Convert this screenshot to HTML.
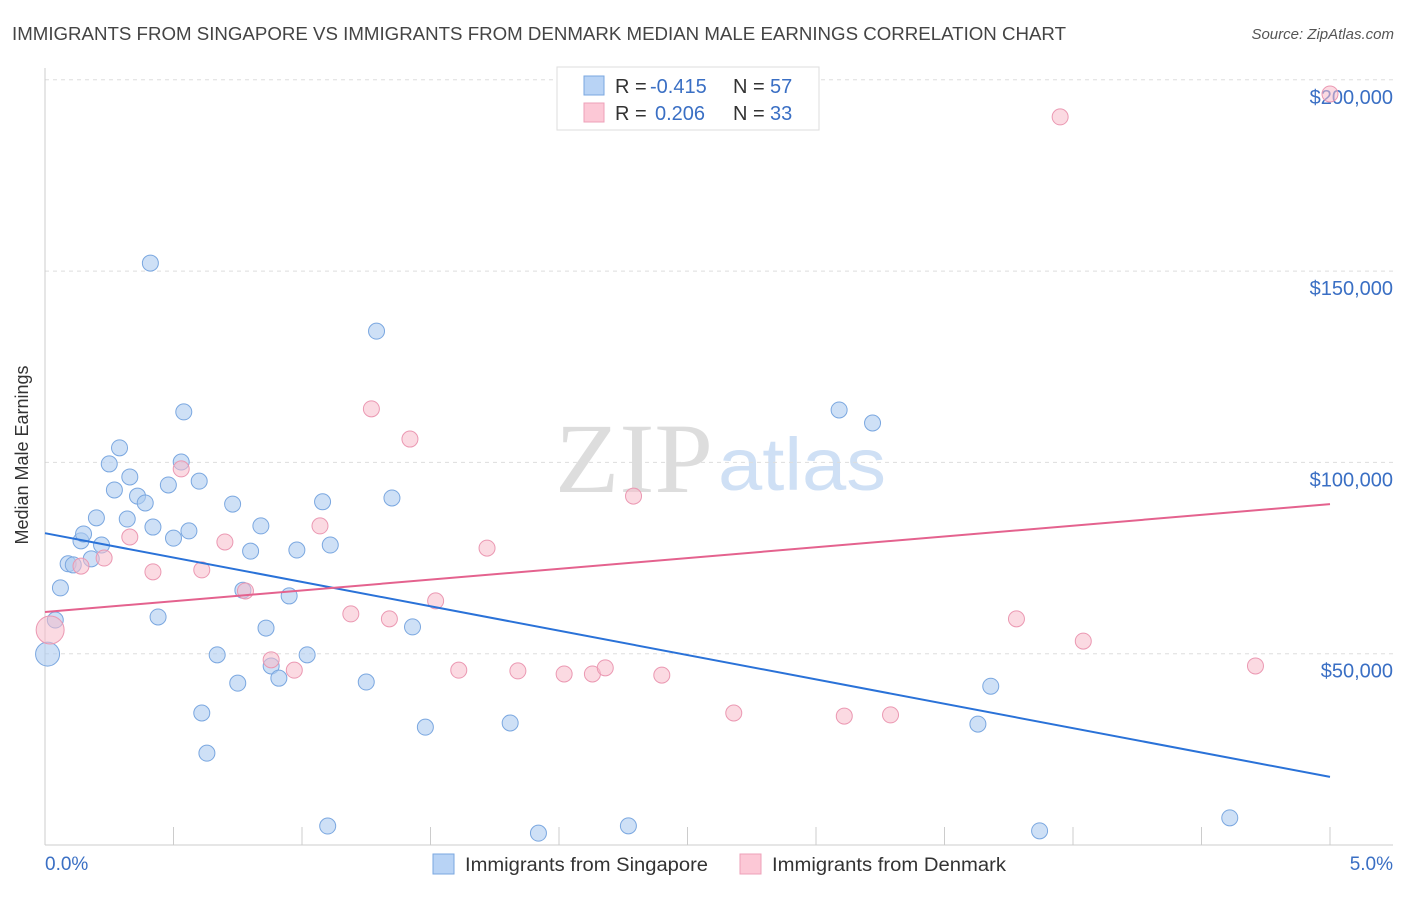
<!DOCTYPE html>
<html><head><meta charset="utf-8"><style>
body{margin:0;background:#fff;font-family:"Liberation Sans",sans-serif;}
svg text{font-family:"Liberation Sans",sans-serif;}
</style></head><body>
<svg id="chart" width="1406" height="892" viewBox="0 0 1406 892" xmlns="http://www.w3.org/2000/svg">
<text x="12" y="40" font-size="18" fill="#444" textLength="1054" lengthAdjust="spacingAndGlyphs">IMMIGRANTS FROM SINGAPORE VS IMMIGRANTS FROM DENMARK MEDIAN MALE EARNINGS CORRELATION CHART</text>
<text x="1394" y="39" font-size="15" fill="#555" font-style="italic" text-anchor="end">Source: ZipAtlas.com</text>
<text x="555" y="492" font-size="100" fill="#ddd" textLength="158" lengthAdjust="spacingAndGlyphs" style="font-family:'Liberation Serif',serif">ZIP</text>
<text x="718" y="490" font-size="74" fill="#cfe0f5" textLength="168" lengthAdjust="spacingAndGlyphs">atlas</text>
<g id="grid"></g>
<line x1="45" y1="68" x2="45" y2="845" stroke="#ccc"/>
<line x1="45" y1="845" x2="1393" y2="845" stroke="#ccc"/>
<g id="ticks"></g>
<text x="28" y="455" font-size="18" fill="#333" text-anchor="middle" transform="rotate(-90 28 455)">Median Male Earnings</text>
<text x="45" y="870" font-size="19" fill="#3a6fc4">0.0%</text>
<text x="1393" y="870" font-size="19" fill="#3a6fc4" text-anchor="end">5.0%</text>
<g id="marks"></g>
<g id="lines"></g>
<g>
<rect x="557" y="67" width="262" height="63" fill="#fff" stroke="#ddd"/>
<rect x="584" y="76" width="20" height="19" fill="#b8d3f5" stroke="#7aa7e0"/>
<rect x="584" y="103" width="20" height="19" fill="#fcc8d6" stroke="#eea0b8"/>
<text x="615" y="93" font-size="20" fill="#333">R = </text><text x="650" y="93" font-size="20" fill="#3a6fc4">-0.415</text>
<text x="733" y="93" font-size="20" fill="#333">N = </text><text x="770" y="93" font-size="20" fill="#3a6fc4">57</text>
<text x="615" y="120" font-size="20" fill="#333">R = </text><text x="655" y="120" font-size="20" fill="#3a6fc4">0.206</text>
<text x="733" y="120" font-size="20" fill="#333">N = </text><text x="770" y="120" font-size="20" fill="#3a6fc4">33</text>
</g>
<g>
<rect x="433" y="854" width="21" height="20" fill="#b8d3f5" stroke="#7aa7e0"/>
<text x="465" y="871" font-size="19" fill="#333" textLength="243" lengthAdjust="spacingAndGlyphs">Immigrants from Singapore</text>
<rect x="740" y="854" width="21" height="20" fill="#fcc8d6" stroke="#eea0b8"/>
<text x="772" y="871" font-size="19" fill="#333" textLength="234" lengthAdjust="spacingAndGlyphs">Immigrants from Denmark</text>
</g>
</svg>
<script>
const yTicks=[50000,100000,150000,200000];
const yTickLabels=["$50,000","$100,000","$150,000","$200,000"];
const xTicks=[0,0.5,1,1.5,2,2.5,3,3.5,4,4.5,5];
const sgX=[0.41,1.29,0.54,3.09,3.22,0.29,0.53,0.25,0.33,0.48,0.60,0.27,0.36,0.39,0.73,1.08,1.35,0.20,0.32,0.42,0.56,0.84,0.50,0.14,0.15,0.22,1.11,0.80,0.98,0.18,0.09,0.11,0.06,0.77,0.95,0.44,0.04,1.43,0.86,0.01,0.67,1.02,0.88,0.91,0.75,1.25,3.68,0.61,1.48,1.81,3.63,0.63,1.10,1.92,2.27,3.87,4.61];
const sgY=[152.1,134.3,113.2,113.7,110.3,103.8,100.1,99.6,96.2,94.1,95.1,92.8,91.2,89.4,89.1,89.7,90.7,85.5,85.2,83.1,82.1,83.4,80.2,79.5,81.3,78.4,78.4,76.8,77.1,74.8,73.5,73.2,67.2,66.6,65.1,59.6,58.8,57.0,56.7,49.9,49.7,49.7,46.8,43.6,42.3,42.6,41.5,34.5,30.8,31.9,31.6,24.0,4.96,3.1,5.0,3.7,7.1];
const dkX=[5.00,3.95,1.27,1.42,0.53,2.29,1.07,1.72,0.70,0.33,0.23,0.14,0.42,0.61,0.78,1.52,1.19,1.34,3.78,4.04,0.02,0.88,0.97,1.61,1.84,2.02,2.13,2.18,2.40,4.71,2.68,3.11,3.29];
const dkY=[196.3,190.3,114.0,106.1,98.3,91.2,83.4,77.6,79.2,80.5,75.0,72.9,71.4,71.9,66.4,63.8,60.4,59.1,59.1,53.3,56.2,48.4,45.7,45.7,45.5,44.7,44.7,46.3,44.4,46.8,34.5,33.7,34.0];
const sgLine=[81.5,17.8];
const dkLine=[60.9,89.1];
const NS="http://www.w3.org/2000/svg";
const xs=v=>45+v*257;
const ys=k=>845-k*1000/50000*191.3;
function mk(t,a,p){const e=document.createElementNS(NS,t);for(const k in a)e.setAttribute(k,a[k]);document.getElementById(p).appendChild(e);return e;}
yTicks.forEach((v,i)=>{
 const g=mk('line',{x1:45,x2:1393,y1:ys(v/1000),y2:ys(v/1000),stroke:'#ddd','stroke-dasharray':'4,4'},'grid');
 
 
 const t=mk('text',{x:1393,y:ys(v/1000)+24,'font-size':20,fill:'#3a6fc4','text-anchor':'end'},'grid');
 t.textContent=yTickLabels[i];
 
 
});
xTicks.forEach(v=>{
 const l=mk('line',{x1:xs(v),x2:xs(v),y1:827,y2:845,stroke:'#ccc'},'ticks');
 
 
});
sgX.forEach((x,i)=>{
 const big=i===39;
 const c=mk('circle',{cx:xs(x),cy:ys(sgY[i]),r:big?12:8,fill:'#aecbf0','fill-opacity':0.6,stroke:'#7aa7e0','stroke-width':1},'marks');
 
 
});
dkX.forEach((x,i)=>{
 const big=i===20;
 const c=mk('circle',{cx:xs(x),cy:ys(dkY[i]),r:big?14:8,fill:'#f7bccb','fill-opacity':0.55,stroke:'#eb98b2','stroke-width':1},'marks');
 
 
});
const l1=mk('line',{x1:xs(0),y1:ys(sgLine[0]),x2:xs(5),y2:ys(sgLine[1]),stroke:'#2a72d8','stroke-width':2},'lines');


const l2=mk('line',{x1:xs(0),y1:ys(dkLine[0]),x2:xs(5),y2:ys(dkLine[1]),stroke:'#e4628e','stroke-width':2},'lines');


</script>
</body></html>
